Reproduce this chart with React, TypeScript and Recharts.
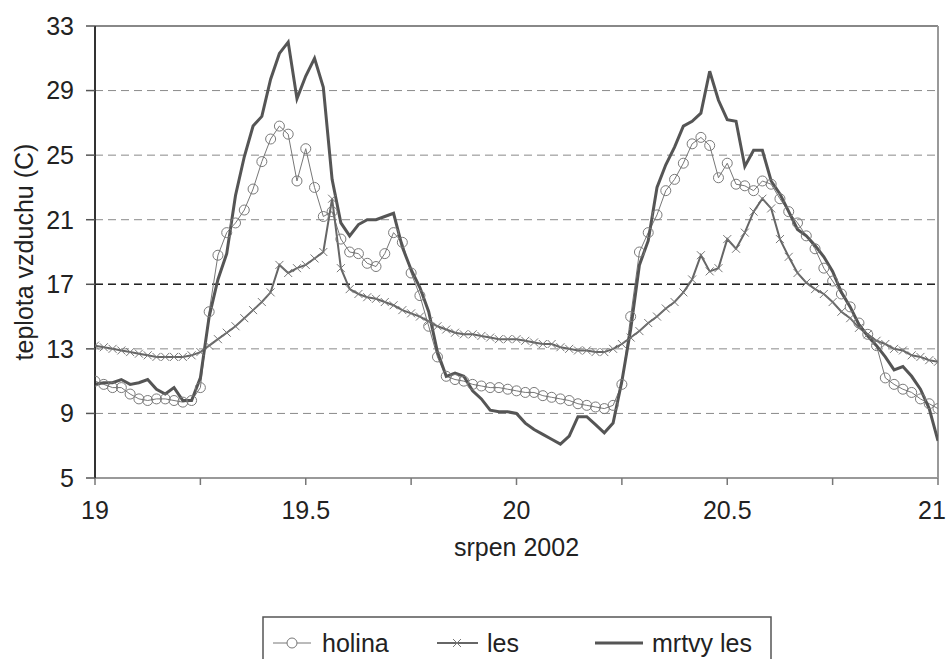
import React from 'react';
import { LineChart, Line, XAxis, YAxis, CartesianGrid, ReferenceLine } from 'recharts';

// half-hourly samples from 19.0 to 21.0 (days of August 2002)
const TIMES: number[] = Array.from({ length: 97 }, (_, i) => 19 + i / 48);

const HOLINA: number[] = [
  11.0, 10.8, 10.6, 10.6, 10.2, 9.9, 9.8, 9.9, 9.9, 9.8, 9.7, 9.8,
  10.6, 15.3, 18.8, 20.2, 20.8, 21.6, 22.9, 24.6, 26.0, 26.8, 26.3, 23.4,
  25.4, 23.0, 21.2, 21.5, 19.8, 19.0, 18.9, 18.3, 18.1, 18.9, 20.2, 19.6,
  17.7, 16.3, 14.4, 12.5, 11.3, 11.1, 11.0, 10.8, 10.7, 10.6, 10.6, 10.5,
  10.4, 10.3, 10.3, 10.1, 10.0, 9.9, 9.8, 9.6, 9.5, 9.4, 9.3, 9.5,
  10.8, 15.0, 19.0, 20.2, 21.3, 22.8, 23.5, 24.5, 25.7, 26.1, 25.6, 23.6,
  24.5, 23.2, 23.1, 22.8, 23.4, 23.2, 22.3, 21.5, 20.8, 20.0, 19.2, 18.0,
  17.2, 16.4, 15.6, 14.6, 13.9, 13.2, 11.2, 10.8, 10.5, 10.3, 9.9, 9.6,
  9.3,
];

const LES: number[] = [
  13.2, 13.1, 13.0, 12.9, 12.8, 12.7, 12.6, 12.5, 12.5, 12.5, 12.5, 12.6,
  12.8, 13.2, 13.6, 14.0, 14.4, 14.9, 15.4, 15.9, 16.5, 18.2, 17.7, 18.0,
  18.2, 18.6, 19.0, 22.3, 18.0, 16.7, 16.4, 16.2, 16.1, 15.9, 15.7, 15.4,
  15.2, 15.0, 14.7, 14.4, 14.2, 14.0, 13.9, 13.9, 13.8, 13.7, 13.6, 13.6,
  13.6, 13.5, 13.4, 13.3, 13.3, 13.1, 13.0, 12.9, 12.9, 12.8, 12.8, 13.0,
  13.3, 13.7, 14.1, 14.6, 15.0, 15.5, 15.9, 16.5, 17.3, 18.8, 17.8, 18.0,
  19.8, 19.2, 20.2, 21.5, 22.3, 21.7, 19.8, 18.7, 17.7, 17.1, 16.7, 16.4,
  15.9, 15.3, 14.9, 14.3, 13.9, 13.5, 13.3, 13.0, 12.9, 12.6, 12.5, 12.3,
  12.2,
];

const MRTVY: number[] = [
  10.8, 10.9, 10.9, 11.1, 10.8, 10.9, 11.1, 10.5, 10.2, 10.6, 9.8, 9.8,
  11.2, 15.0, 17.3, 18.9, 22.5, 24.9, 26.8, 27.4, 29.7, 31.3, 32.0, 28.5,
  29.9, 31.0, 29.2, 23.5, 20.8, 20.0, 20.7, 21.0, 21.0, 21.2, 21.4, 19.3,
  17.9, 16.8, 15.3, 12.8, 11.3, 11.5, 11.3, 10.4, 9.9, 9.2, 9.1, 9.1,
  9.0, 8.4, 8.0, 7.7, 7.4, 7.1, 7.6, 8.8, 8.8, 8.3, 7.8, 8.4,
  11.0, 14.2, 18.2, 19.7, 23.0, 24.4, 25.5, 26.8, 27.1, 27.6, 30.2, 28.4,
  27.2, 27.1, 24.3, 25.3, 25.3, 23.4, 22.6, 21.5, 20.4, 20.0, 19.4, 18.7,
  17.8, 16.5, 15.6, 14.5, 13.8, 13.2, 12.5, 11.7, 11.9, 11.3, 10.5, 9.3,
  7.3,
];

const X_TICKS = [19, 19.25, 19.5, 19.75, 20, 20.25, 20.5, 20.75, 21];
const Y_TICKS = [5, 9, 13, 17, 21, 25, 29, 33];
const Y_MINOR = [7, 11, 15, 19, 23, 27, 31];

const SERIES_NAMES = { holina: 'holina', les: 'les', mrtvy: 'mrtvy les' };
const X_TITLE = 'srpen 2002';
const Y_TITLE = 'teplota vzduchu (C)';

const data = TIMES.map((t, i) => ({ t, holina: HOLINA[i], les: LES[i], mrtvy: MRTVY[i] }));

const FONT = '"Liberation Sans", Arial, sans-serif';
const CHART_W = 948;

const xFmt = (v: number) => (Math.abs(v * 2 - Math.round(v * 2)) < 1e-6 ? String(v) : '');

const XTick = (p: any) => {
  const { x, y, payload } = p;
  const label = xFmt(payload.value);
  if (!label) return <g />;
  const halfW = label.length * 7;
  const tx = Math.min(x, CHART_W - 2 - halfW);
  return (
    <text x={tx} y={y} dy="0.71em" textAnchor="middle" fontSize={25} fill="#222" fontFamily={FONT}>
      {label}
    </text>
  );
};

const XDot = (p: any) => {
  const { cx, cy, index } = p;
  if (cx == null || cy == null) return <g key={`lx-${index}`} />;
  const s = 4;
  return (
    <path
      key={`lx-${index}`}
      d={`M${cx - s},${cy - s}L${cx + s},${cy + s}M${cx - s},${cy + s}L${cx + s},${cy - s}`}
      stroke="#777"
      strokeWidth={1}
      fill="none"
    />
  );
};

const YTitle = (p: any) => {
  const vb = p.viewBox || {};
  const cx = (vb.x || 0) + 24;
  const cy = (vb.y || 0) + (vb.height || 0) / 2;
  return (
    <text
      x={cx}
      y={cy}
      transform={`rotate(-90 ${cx} ${cy})`}
      textAnchor="middle"
      dominantBaseline="central"
      fontSize={25}
      fill="#222"
      fontFamily={FONT}
    >
      {Y_TITLE}
    </text>
  );
};

const LegendBox = () => (
  <div style={{ position: 'absolute', left: 262, top: 616, width: 510, height: 60 }}>
    <svg width={510} height={60} style={{ display: 'block' }}>
      <path d="M1,60 L1,1 L509,1 L509,60" stroke="#555" strokeWidth={1.5} fill="none" />
      <line x1={11} y1={27} x2={49} y2={27} stroke="#777" strokeWidth={1} />
      <circle cx={30} cy={27} r={5} stroke="#777" strokeWidth={1} fill="#fff" />
      <text x={60} y={27} dominantBaseline="central" fontSize={25} fill="#222" fontFamily={FONT}>
        {SERIES_NAMES.holina}
      </text>
      <line x1={175} y1={27} x2={216} y2={27} stroke="#666" strokeWidth={2} />
      <path d="M191,23L199,31M191,31L199,23" stroke="#777" strokeWidth={1} />
      <text x={225} y={27} dominantBaseline="central" fontSize={25} fill="#222" fontFamily={FONT}>
        {SERIES_NAMES.les}
      </text>
      <line x1={333} y1={27} x2={381} y2={27} stroke="#555" strokeWidth={3} />
      <text x={390} y={27} dominantBaseline="central" fontSize={25} fill="#222" fontFamily={FONT}>
        {SERIES_NAMES.mrtvy}
      </text>
    </svg>
  </div>
);

export default function App() {
  return (
    <div
      style={{
        position: 'absolute',
        left: 0,
        top: 0,
        width: 948,
        height: 659,
        overflow: 'hidden',
        background: '#fff',
        fontFamily: FONT,
      }}
    >
      <LineChart width={CHART_W} height={659} data={data} margin={{ top: 26, right: 10, bottom: 0, left: 0 }}>
        <CartesianGrid xAxisId="x" yAxisId="y" vertical={false} stroke="#8a8a8a" strokeDasharray="8 5" />
        <XAxis
          xAxisId="x"
          dataKey="t"
          type="number"
          domain={[19, 21]}
          allowDataOverflow
          ticks={X_TICKS}
          interval={0}
          tickFormatter={xFmt}
          height={181}
          tickSize={7}
          tickMargin={16}
          axisLine={{ stroke: '#999', strokeWidth: 2 }}
          tickLine={{ stroke: '#777', strokeWidth: 1.5 }}
          tick={<XTick />}
          label={{ value: X_TITLE, position: 'insideBottom', offset: 103, fill: '#222', fontSize: 25, fontFamily: FONT }}
        />
        <XAxis
          xAxisId="xm"
          dataKey="t"
          type="number"
          domain={[19, 21]}
          allowDataOverflow
          ticks={X_TICKS}
          interval={0}
          orientation="top"
          height={0}
          tick={false}
          tickSize={5}
          axisLine={false}
          tickLine={false}
          hide
        />
        <YAxis
          yAxisId="y"
          type="number"
          domain={[5, 33]}
          allowDataOverflow
          ticks={Y_TICKS}
          interval={0}
          width={95}
          tickSize={9}
          tickMargin={12}
          axisLine={{ stroke: '#333', strokeWidth: 2 }}
          tickLine={{ stroke: '#555', strokeWidth: 1.5 }}
          tick={{ fill: '#222', fontSize: 25, fontFamily: FONT }}
          label={{ content: YTitle }}
        />
        <YAxis
          yAxisId="minor"
          type="number"
          domain={[5, 33]}
          allowDataOverflow
          ticks={Y_MINOR}
          interval={0}
          mirror
          width={0}
          tick={false}
          tickSize={5}
          axisLine={false}
          tickLine={{ stroke: '#444', strokeWidth: 1.5 }}
        />
        <ReferenceLine xAxisId="x" yAxisId="y" y={17} stroke="#222" strokeDasharray="8 5" strokeWidth={1.5} />
        <ReferenceLine xAxisId="x" yAxisId="y" y={33} stroke="#888" strokeWidth={2} />
        <ReferenceLine xAxisId="x" yAxisId="y" x={21} stroke="#999" strokeWidth={2} />
        <Line
          xAxisId="x"
          yAxisId="y"
          type="linear"
          dataKey="holina"
          name={SERIES_NAMES.holina}
          stroke="#777"
          strokeWidth={1}
          dot={{ r: 5, stroke: '#7a7a7a', strokeWidth: 1, fill: 'none' }}
          isAnimationActive={false}
        />
        <Line
          xAxisId="x"
          yAxisId="y"
          type="linear"
          dataKey="les"
          name={SERIES_NAMES.les}
          stroke="#666"
          strokeWidth={2}
          dot={XDot}
          isAnimationActive={false}
        />
        <Line
          xAxisId="x"
          yAxisId="y"
          type="linear"
          dataKey="mrtvy"
          name={SERIES_NAMES.mrtvy}
          stroke="#555"
          strokeWidth={3}
          dot={false}
          isAnimationActive={false}
        />
      </LineChart>
      <LegendBox />
    </div>
  );
}
